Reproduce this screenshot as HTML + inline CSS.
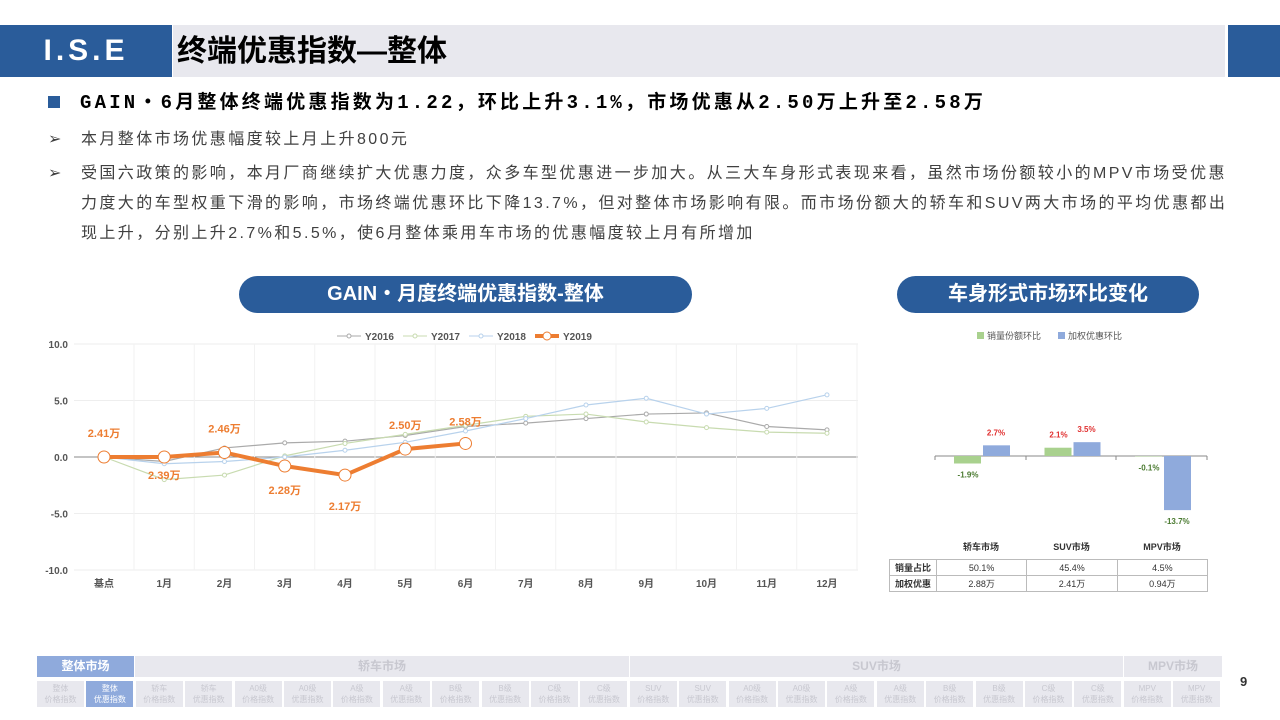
<!DOCTYPE html>
<html><head><meta charset="utf-8"><style>
body{margin:0;width:1280px;height:720px;background:#fff;position:relative;overflow:hidden;font-family:"Liberation Sans","Noto Sans CJK SC",sans-serif;}
.a{position:absolute;}
.p{font-size:16px;color:#404040;line-height:30px;letter-spacing:2.4px;white-space:nowrap}
.nav1{top:656px;height:21px;background:#e8e8ee;color:#c8c8d0;font-size:12px;text-align:center;line-height:21px;font-weight:bold}
.nav2{top:681px;height:26px;width:47px;background:#e8e8ee;color:#c8c8d0;font-size:8px;text-align:center;line-height:11px;padding-top:2px;box-sizing:border-box}
td{border:1px solid #bbb;text-align:center;font-size:9px;height:15px;padding:0;color:#333}
</style></head><body>
<div class="a" style="left:0;top:25px;width:172px;height:52px;background:#2a5c9a;color:#fff;font-size:30px;font-weight:bold;line-height:52px;text-align:center;letter-spacing:4px">I.S.E</div>
<div class="a" style="left:173px;top:25px;width:1052px;height:52px;background:#e8e8ee;font-size:30px;font-weight:bold;line-height:54px;padding-left:4px;box-sizing:border-box">终端优惠指数—整体</div>
<div class="a" style="left:1228px;top:25px;width:52px;height:52px;background:#2a5c9a"></div>
<div class="a" style="left:48px;top:96px;width:12px;height:12px;background:#2a5c9a"></div>
<div class="a" style="left:80px;top:88px;font-size:19px;font-weight:bold;line-height:30px;font-family:'Liberation Mono','Noto Sans CJK SC',monospace;letter-spacing:3.2px;white-space:nowrap">GAIN・6月整体终端优惠指数为1.22，环比上升3.1%，市场优惠从2.50万上升至2.58万</div>
<div class="a p" style="left:48px;top:125px">➢</div>
<div class="a p" style="left:81px;top:125px">本月整体市场优惠幅度较上月上升800元</div>
<div class="a p" style="left:48px;top:159px">➢</div>
<div class="a p" style="left:81px;top:159px">受国六政策的影响，本月厂商继续扩大优惠力度，众多车型优惠进一步加大。从三大车身形式表现来看，虽然市场份额较小的MPV市场受优惠<br>力度大的车型权重下滑的影响，市场终端优惠环比下降13.7%，但对整体市场影响有限。而市场份额大的轿车和SUV两大市场的平均优惠都出<br>现上升，分别上升2.7%和5.5%，使6月整体乘用车市场的优惠幅度较上月有所增加</div>
<div class="a" style="left:239px;top:276px;width:453px;height:37px;border-radius:19px;background:#2a5c9a;color:#fff;font-size:20px;font-weight:bold;text-align:center;line-height:37px">GAIN・月度终端优惠指数-整体</div>
<div class="a" style="left:897px;top:276px;width:302px;height:37px;border-radius:19px;background:#2a5c9a;color:#fff;font-size:20px;font-weight:bold;text-align:center;line-height:37px">车身形式市场环比变化</div>
<svg class="a" style="left:0;top:0" width="1280" height="720" id="svg"></svg>
<table class="a" style="left:889px;top:559px;border-collapse:collapse;width:319px">
<tr><td style="width:46px;font-weight:bold">销量占比</td><td>50.1%</td><td>45.4%</td><td>4.5%</td></tr>
<tr><td style="font-weight:bold">加权优惠</td><td>2.88万</td><td>2.41万</td><td>0.94万</td></tr></table>
<div id="nav"></div>
<div class="a" style="left:1240px;top:674px;font-size:13px;font-weight:bold;color:#333">9</div>
<script>
const months=['基点','1月','2月','3月','4月','5月','6月','7月','8月','9月','10月','11月','12月'];
const y2016=[0,-0.4,0.8,1.25,1.4,1.9,2.7,3.0,3.4,3.8,3.9,2.7,2.4];
const y2017=[0,-2.0,-1.6,0.1,1.2,2.0,2.8,3.6,3.8,3.1,2.6,2.2,2.1];
const y2018=[0,-0.6,-0.4,0.0,0.6,1.3,2.3,3.4,4.6,5.2,3.8,4.3,5.5];
const y2019=[0,0.0,0.4,-0.8,-1.6,0.7,1.2];
const y2019Labels=['2.41万','2.39万','2.46万','2.28万','2.17万','2.50万','2.58万'];
const yTicks=[10,5,0,-5,-10];
const barCats=['轿车市场','SUV市场','MPV市场'];
const shareChg=[-1.9,2.1,-0.1];
const discChg=[2.7,3.5,-13.7];
const svg=document.getElementById('svg');const NS='http://www.w3.org/2000/svg';
function mk(t,a,txt){const e=document.createElementNS(NS,t);for(const k in a)e.setAttribute(k,a[k]);if(txt!=null)e.textContent=txt;svg.appendChild(e);return e;}
const X=i=>104+i*60.25, Y=v=>457-v*11.3;
const F='"Liberation Sans","Noto Sans CJK SC",sans-serif';
for(const t of yTicks){let l=mk('line',{x1:74,x2:858,y1:Y(t),y2:Y(t),stroke:t==0?'#888':'#eee'});
let tx=mk('text',{x:68,y:Y(t)+4,'text-anchor':'end','font-size':10,fill:'#555','font-family':F,'font-weight':'bold'},t.toFixed(1));}
months.forEach((m,i)=>{mk('line',{x1:X(i)+30,x2:X(i)+30,y1:Y(10),y2:Y(-10),stroke:'#f2f2f2'});let t=mk('text',{x:X(i),y:587,'text-anchor':'middle','font-size':10,fill:'#555','font-family':F,'font-weight':'bold'},m);});
function series(d,c,w,r,name){const p=mk('polyline',{points:d.map((v,i)=>X(i)+','+Y(v)).join(' '),fill:'none',stroke:c,'stroke-width':w});
d.forEach((v,i)=>{const m=mk('circle',{cx:X(i),cy:Y(v),r:r,fill:'#fff',stroke:c,'stroke-width':1});});}
series(y2016,'#aaa',1.2,2,'line-y2016');series(y2017,'#c8dbb0',1.2,2,'line-y2017');series(y2018,'#b8d2ec',1.2,2,'line-y2018');series(y2019,'#ed7d31',4,6,'line-y2019');
const offs=[-20,22,-20,28,35,-20,-18];
y2019.forEach((v,i)=>{let t=mk('text',{x:X(i),y:Y(v)+offs[i],'text-anchor':'middle','font-size':11,fill:'#ed7d31','font-weight':'bold','font-family':F},y2019Labels[i]);});
const lg=[['Y2016','#aaa',1],['Y2017','#c8dbb0',1],['Y2018','#b8d2ec',1],['Y2019','#ed7d31',4]];
lg.forEach((l,i)=>{const x=337+i*66;mk('line',{x1:x,x2:x+24,y1:336,y2:336,stroke:l[1],'stroke-width':l[2]});mk('circle',{cx:x+12,cy:336,r:i==3?4:2,fill:'#fff',stroke:l[1]});let t=mk('text',{x:x+28,y:340,'font-size':10,fill:'#555','font-family':F,'font-weight':'bold'},l[0]);});
const BX=i=>981+i*90.5, BY=v=>456-v*3.95;
mk('line',{x1:935,x2:1207,y1:456,y2:456,stroke:'#888'});
[935,1026,1116,1207].forEach(x=>mk('line',{x1:x,x2:x,y1:456,y2:460,stroke:'#888'}));
barCats.forEach((c,i)=>{
 const g=mk('rect',{x:BX(i)-27,y:Math.min(BY(shareChg[i]),456),width:27,height:Math.abs(shareChg[i]*3.95),fill:'#a9d18e'});
 const b=mk('rect',{x:BX(i)+2,y:Math.min(BY(discChg[i]),456),width:27,height:Math.abs(discChg[i]*3.95),fill:'#8faadc'});
 const sl=(v,x)=>{const up=v>0;mk('text',{x:x,y:up?BY(v)-10:BY(v)+14,'text-anchor':'middle','font-size':8,'font-weight':'bold',fill:up?'#e03030':'#4a7a30','font-family':F},v.toFixed(1)+'%');};
 sl(shareChg[i],BX(i)-13);sl(discChg[i],BX(i)+15);
 let t=mk('text',{x:BX(i),y:550,'text-anchor':'middle','font-size':9,'font-weight':'bold',fill:'#333','font-family':F},c);
});
mk('rect',{x:977,y:332,width:7,height:7,fill:'#a9d18e'});mk('text',{x:987,y:339,'font-size':9,fill:'#555','font-family':F},'销量份额环比');
mk('rect',{x:1058,y:332,width:7,height:7,fill:'#8faadc'});mk('text',{x:1068,y:339,'font-size':9,fill:'#555','font-family':F},'加权优惠环比');
const nav=document.getElementById('nav');
const secs=[['整体市场',37,97],['轿车市场',135,494],['SUV市场',630,493],['MPV市场',1124,98]];
secs.forEach((s,i)=>{const d=document.createElement('div');d.className='a nav1';d.style.left=s[1]+'px';d.style.width=s[2]+'px';d.textContent=s[0];if(i==0){d.style.background='#8faadc';d.style.color='#fff';}


nav.appendChild(d);});
const tops=['整体','整体','轿车','轿车','A0级','A0级','A级','A级','B级','B级','C级','C级','SUV','SUV','A0级','A0级','A级','A级','B级','B级','C级','C级','MPV','MPV'];
tops.forEach((t,i)=>{const d=document.createElement('div');d.className='a nav2';d.style.left=(37+i*49.4)+'px';d.innerHTML=t+'<br>'+(i%2?'优惠指数':'价格指数');if(i==1){d.style.background='#8faadc';d.style.color='#fff';}


nav.appendChild(d);});
</script>
</body></html>
